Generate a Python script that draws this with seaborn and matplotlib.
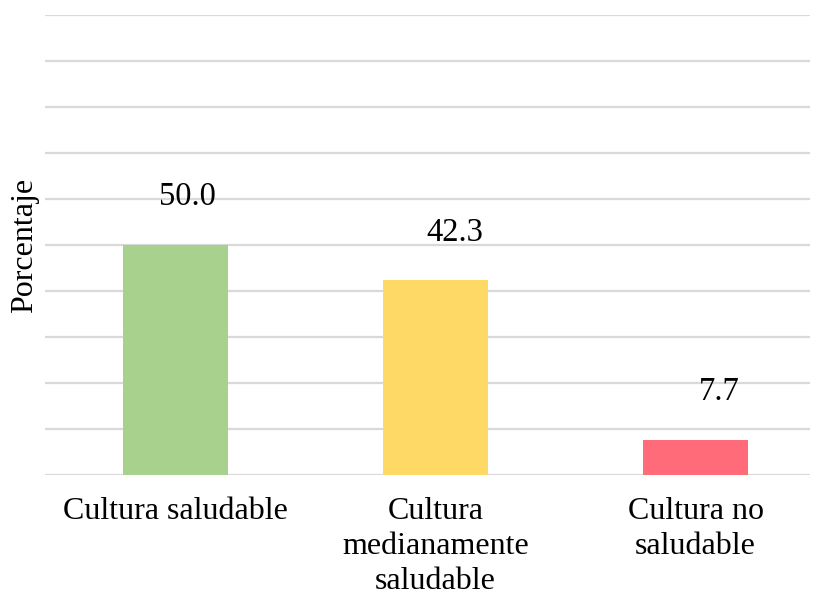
import matplotlib
matplotlib.use("Agg")
import matplotlib.pyplot as plt
import seaborn as sns
import pandas as pd

# Chart data
categories = ["Cultura saludable", "Cultura\nmedianamente\nsaludable", "Cultura no\nsaludable"]
percentages = [50.0, 42.3, 7.7]
bar_colors = ["#A9D18E", "#FFD966", "#FF6B79"]
y_label = "Porcentaje"

# Small horizontal nudges (pixels) for the value labels
label_shift_px = [12, 19, 24]

sns.set_theme(style="white")
plt.rcParams["font.family"] = ["Liberation Serif", "DejaVu Serif"]

df = pd.DataFrame({"categoria": categories, "porcentaje": percentages})

fig = plt.figure(figsize=(8.13, 5.98), dpi=100)
ax = fig.add_axes([45 / 813, (598 - 475) / 598, (810 - 45) / 813, (475 - 15) / 598])

sns.barplot(
    data=df, x="categoria", y="porcentaje", hue="categoria",
    palette=bar_colors, width=0.404, legend=False, ax=ax,
    saturation=1, linewidth=0,
)

ax.set_ylim(0, 100)
ax.set_yticks(range(0, 101, 10))
ax.set_yticklabels([])
ax.set_xlim(-0.502, 2.44)
ax.grid(axis="y", color="#d9d9d9", linewidth=1.6)
ax.set_axisbelow(True)
for s in ax.spines.values():
    s.set_visible(False)

ax.tick_params(axis="x", length=0, pad=16, labelsize=23, labelcolor="black")
ax.tick_params(axis="y", length=0)
ax.set_xlabel("")
ax.set_ylabel(y_label, fontsize=23, labelpad=1, color="black")
for lbl in ax.get_xticklabels():
    lbl.set_linespacing(1.27)

for i, v in enumerate(percentages):
    ax.annotate(f"{v:.1f}", xy=(i, v), xytext=(label_shift_px[i], 48),
                textcoords="offset pixels", ha="center", va="center",
                fontsize=23.5, color="black")

fig.savefig("out.png", dpi=100)
